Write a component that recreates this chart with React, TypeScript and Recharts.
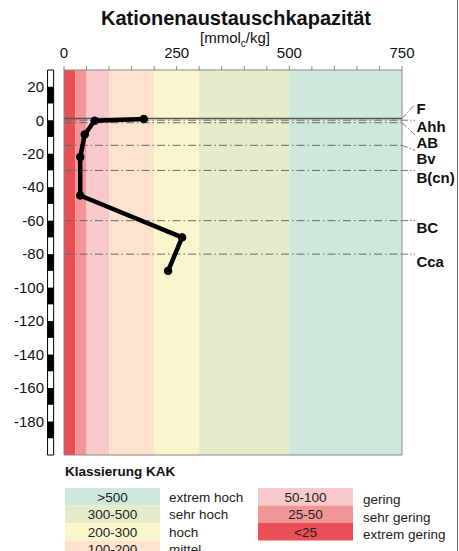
import React from 'react'
import { LineChart, Line, XAxis, YAxis, ReferenceArea, ReferenceLine, ReferenceDot } from 'recharts'

// Profil: Tiefe [cm] und KAK [mmolc/kg]
const depths = [0.7, -0.3, -8.5, -22, -45, -70, -90]
const kakValues = [177, 68, 46, 36, 36, 262, 231]

// Klassengrenzen KAK und Farben
const classBounds = [0, 25, 50, 100, 200, 300, 500, 750]
const classColors = ['#e94f55', '#f19597', '#f8c9cb', '#fde3cd', '#f9f6cd', '#e5ecc9', '#cfe8dc']

// Horizonte
const horizonNames = ['F', 'Ahh', 'AB', 'Bv', 'B(cn)', 'BC', 'Cca']
const horizonDepths = [1, 0, -1.5, -15, -30, -60, -80]
const leaderEndDepths = [9.5, 0, -8.8, -18, -30, -60, -80]
const labelDepths = [7, -3.6, -13.6, -23.2, -34.5, -64, -84.5]

const xTicks = [0, 50, 100, 150, 200, 250, 300, 350, 400, 450, 500, 550, 600, 650, 700, 750]
const xLabeled = [0, 250, 500, 750]
const yTicks = [20, 0, -20, -40, -60, -80, -100, -120, -140, -160, -180]

const legendRanges = ['>500', '300-500', '200-300', '100-200', '50-100', '25-50', '<25']
const legendNames = ['extrem hoch', 'sehr hoch', 'hoch', 'mittel', 'gering', 'sehr gering', 'extrem gering']

const data = kakValues.map((kak, i) => ({ kak, depth: depths[i] }))
const legendColors = [...classColors].reverse()

const FONT = '"Liberation Sans", Arial, Helvetica, sans-serif'
const DASH = '8 3 1.5 3'

export default function App() {
  return (
    <div style={{ position: 'absolute', left: 0, top: 0, width: 459, height: 551, fontFamily: FONT, background: '#fff' }}>
      <LineChart
        width={459}
        height={551}
        data={data}
        margin={{ top: 40, right: 57, bottom: 96, left: 24 }}
      >
        {classColors.map((c, i) => (
          <ReferenceArea
            key={'band' + i}
            x1={classBounds[i]}
            x2={classBounds[i + 1]}
            y1={-200}
            y2={30}
            fill={c}
            fillOpacity={1}
            stroke="none"
          />
        ))}
        {/* Maßstab links */}
        <ReferenceArea x1={-36.5} x2={-23} y1={-200} y2={30} fill="#fff" fillOpacity={1} stroke="#000" strokeWidth={1} ifOverflow="visible" />
        {yTicks.map((t) => (
          <ReferenceArea key={'bar' + t} x1={-36.5} x2={-23} y1={t - 10} y2={t} fill="#000" fillOpacity={1} stroke="none" ifOverflow="visible" />
        ))}
        {horizonNames.map((name, i) => (
          <ReferenceLine
            key={'hl' + name}
            y={horizonDepths[i]}
            stroke={i === 0 ? '#555' : '#6a6a6a'}
            strokeWidth={i === 0 ? 1.4 : 1}
            strokeDasharray={i === 0 ? undefined : DASH}
          />
        ))}
        {horizonNames.map((name, i) => (
          <ReferenceLine
            key={'lead' + name}
            segment={[{ x: 750, y: horizonDepths[i] }, { x: 779, y: leaderEndDepths[i] }]}
            stroke="#777"
            strokeWidth={1}
            strokeDasharray="6 2 1.5 2"
            ifOverflow="visible"
          />
        ))}
        {horizonNames.map((name, i) => (
          <ReferenceDot
            key={'lab' + name}
            x={782}
            y={labelDepths[i]}
            r={0}
            fill="none"
            stroke="none"
            ifOverflow="visible"
            label={{ value: name, position: 'right', offset: 0, fill: '#111', fontSize: 15, fontWeight: 'bold' }}
          />
        ))}
        <ReferenceLine x={750} stroke="#888" />
        <ReferenceLine y={-200} stroke="#888" />
        <Line
          dataKey="depth"
          stroke="#000"
          strokeWidth={4.5}
          strokeLinejoin="round"
          dot={{ r: 3.8, fill: '#000', stroke: '#000', strokeWidth: 1 }}
          isAnimationActive={false}
        />
        <XAxis
          type="number"
          dataKey="kak"
          orientation="top"
          height={30}
          domain={[0, 750]}
          ticks={xTicks}
          interval={0}
          allowDataOverflow
          tickSize={4}
          tickMargin={8}
          axisLine={{ stroke: '#888' }}
          tickLine={{ stroke: '#888' }}
          tick={{ fill: '#111', fontSize: 15 }}
          tickFormatter={(v) => (xLabeled.includes(v) ? String(v) : '')}
        />
        <YAxis
          type="number"
          domain={[-200, 30]}
          ticks={yTicks}
          interval={0}
          allowDataOverflow
          width={40}
          tickSize={0}
          tickMargin={20}
          axisLine={{ stroke: '#888' }}
          tickLine={false}
          tick={{ fill: '#111', fontSize: 15 }}
        />
      </LineChart>

      <svg width={459} height={551} style={{ position: 'absolute', left: 0, top: 0, pointerEvents: 'none' }}>
        <text x={236} y={25} textAnchor="middle" fontSize={20} fontWeight="bold" fill="#111">
          Kationenaustauschkapazität
        </text>
        <text x={235} y={43} textAnchor="middle" fontSize={15} fill="#111">
          [mmol<tspan fontSize={10} dy={4}>c</tspan><tspan dy={-4}>/kg]</tspan>
        </text>
        <line x1={457.5} y1={0} x2={457.5} y2={551} stroke="#666" strokeWidth={1} />

        <text x={65} y={476} fontSize={13.5} fontWeight="bold" fill="#111">Klassierung KAK</text>
        {legendRanges.map((r, i) => {
          const col = i < 4 ? 0 : 1
          const row = col === 0 ? i : i - 4
          const bx = col === 0 ? 65 : 258
          const by = 488 + row * 17.5
          const tx = col === 0 ? 169 : 363
          const shift = col === 0 ? 0 : 2.5
          return (
            <g key={r}>
              <rect x={bx} y={by} width={95} height={17.5} fill={legendColors[i]} />
              <text x={bx + 47.5} y={by + 13.5} textAnchor="middle" fontSize={13.5} fill="#222">{r}</text>
              <text x={tx} y={by + 13.5 + shift} fontSize={13.5} fill="#222">{legendNames[i]}</text>
            </g>
          )
        })}
      </svg>
    </div>
  )
}
